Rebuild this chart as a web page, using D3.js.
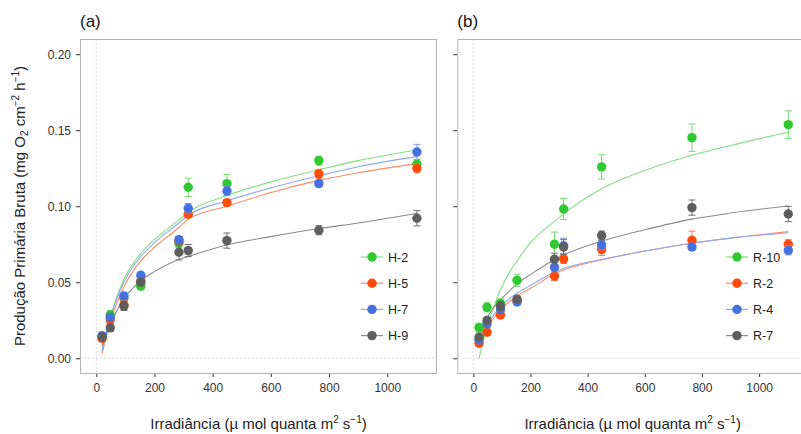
<!DOCTYPE html>
<html>
<head>
<meta charset="utf-8">
<script src="https://cdn.jsdelivr.net/npm/d3@7"></script>
<style>
  body { margin: 0; background: #fff; }
  svg { font-family: "Liberation Sans", Arial, sans-serif; }
</style>
</head>
<body>
<div id="chart"></div>
<script>
// Irradiance levels of the measurements
const irradiance = [20, 48, 95, 153, 284, 316, 449, 765, 1102];

// Panel (a)
const namesA = ['H-2', 'H-5', 'H-7', 'H-9'];
const valuesA = [
    [0.0136, 0.0285, 0.0395, 0.0474, 0.0757, 0.1125, 0.1149, 0.1300, 0.1278],
    [0.0130, 0.0252, 0.0350, 0.0509, 0.0770, 0.0947, 0.1024, 0.1213, 0.1250],
    [0.0149, 0.0270, 0.0410, 0.0546, 0.0780, 0.0987, 0.1100, 0.1149, 0.1357],
    [0.0140, 0.0200, 0.0344, 0.0500, 0.0697, 0.0708, 0.0774, 0.0842, 0.0921]
];
const errorsA = [
    [0.002, 0.003, 0.002, 0.002, 0.003, 0.006, 0.006, 0.003, 0.003],
    [0.002, 0.002, 0.003, 0.002, 0.002, 0.002, 0.002, 0.003, 0.003],
    [0.002, 0.002, 0.002, 0.002, 0.002, 0.003, 0.003, 0.002, 0.005],
    [0.002, 0.002, 0.003, 0.002, 0.005, 0.004, 0.005, 0.003, 0.005]
];

// Panel (b)
const namesB = ['R-10', 'R-2', 'R-4', 'R-7'];
const valuesB = [
    [0.0201, 0.0335, 0.0360, 0.0513, 0.0750, 0.0982, 0.1259, 0.1451, 0.1537],
    [0.0099, 0.0171, 0.0285, 0.0380, 0.0541, 0.0653, 0.0715, 0.0776, 0.0750],
    [0.0120, 0.0226, 0.0320, 0.0370, 0.0599, 0.0740, 0.0745, 0.0732, 0.0710],
    [0.0138, 0.0248, 0.0344, 0.0388, 0.0651, 0.0732, 0.0807, 0.0991, 0.0949]
];
const errorsB = [
    [0.003, 0.003, 0.003, 0.004, 0.008, 0.007, 0.008, 0.009, 0.009],
    [0.002, 0.002, 0.002, 0.002, 0.003, 0.003, 0.004, 0.006, 0.003],
    [0.002, 0.002, 0.002, 0.002, 0.003, 0.005, 0.003, 0.002, 0.003],
    [0.002, 0.002, 0.003, 0.002, 0.004, 0.005, 0.003, 0.005, 0.005]
];

// Fitted curves at these irradiances
const curveX = [20, 30, 48, 70, 95, 125, 153, 200, 284, 316, 449, 600, 765, 900, 1102];
const curvesA = [
    [0.005, 0.014, 0.027, 0.040, 0.052, 0.062, 0.069, 0.078, 0.091, 0.096, 0.107, 0.116, 0.124, 0.130, 0.137],
    [0.003, 0.011, 0.024, 0.036, 0.047, 0.057, 0.064, 0.073, 0.086, 0.0915, 0.100, 0.109, 0.117, 0.122, 0.128],
    [0.005, 0.013, 0.026, 0.039, 0.050, 0.060, 0.067, 0.076, 0.089, 0.094, 0.1035, 0.112, 0.120, 0.126, 0.1326],
    [0.008, 0.014, 0.022, 0.031, 0.039, 0.046, 0.051, 0.057, 0.065, 0.067, 0.0745, 0.080, 0.0853, 0.089, 0.0954]
];
const curvesB = [
    [0.000, 0.008, 0.020, 0.033, 0.045, 0.056, 0.064, 0.076, 0.090, 0.095, 0.1115, 0.1235, 0.1335, 0.140, 0.1487],
    [0.008, 0.012, 0.020, 0.026, 0.032, 0.037, 0.041, 0.046, 0.0555, 0.058, 0.0647, 0.0705, 0.0757, 0.079, 0.0833],
    [0.010, 0.014, 0.022, 0.028, 0.034, 0.039, 0.0428, 0.048, 0.0565, 0.059, 0.0650, 0.0705, 0.0757, 0.079, 0.0826],
    [0.012, 0.017, 0.0263, 0.033, 0.0384, 0.044, 0.049, 0.055, 0.065, 0.068, 0.077, 0.0845, 0.0915, 0.0955, 0.1002]
];

const colors = ['#2fc82f', '#ff4a0a', '#4470e0', '#5e5e5e'];
const lineColors = ['#7fe07f', '#ff8a66', '#8ea8f0', '#8a8a8a'];
const barColors = ['#70dc70', '#ff7a50', '#7f9cf0', '#6e6e6e'];
const xTicks = [0, 200, 400, 600, 800, 1000];
const yTicks = [0, 0.05, 0.10, 0.15, 0.20];

let width = 801;
let height = 434;

let svg = d3.select('#chart')
    .append('svg')
    .attr('width', width)
    .attr('height', height);

let y = d3.scaleLinear()
    .domain([-0.0097, 0.21])
    .range([373, 39]);

function drawPanel(left, right, title, names, values, errors, curves, showLabels, legendX) {
    let x = d3.scaleLinear()
        .domain([-56, 1171])
        .range([left, right]);

    let g = svg.append('g');

    // reference lines at zero
    g.append('line')
        .attr('x1', x(0)).attr('x2', x(0))
        .attr('y1', 39).attr('y2', 373)
        .attr('stroke', '#d9d9d9')
        .attr('stroke-dasharray', '2,2');
    g.append('line')
        .attr('x1', left).attr('x2', right)
        .attr('y1', y(0)).attr('y2', y(0))
        .attr('stroke', '#d9d9d9')
        .attr('stroke-dasharray', '2,2');

    // axes
    let yAxis = d3.axisLeft(y)
        .tickValues(yTicks)
        .tickSize(4)
        .tickPadding(5)
        .tickFormat(showLabels ? d3.format('.2f') : '');
    let gy = g.append('g')
        .attr('transform', 'translate(' + left + ',0)')
        .call(yAxis);

    let xAxis = d3.axisBottom(x)
        .tickValues(xTicks)
        .tickSize(4)
        .tickPadding(6)
        .tickFormat(d3.format('d'));
    let gx = g.append('g')
        .attr('transform', 'translate(0,373)')
        .call(xAxis);

    [gx, gy].forEach(function(a) {
        a.select('.domain').remove();
        a.selectAll('line').attr('stroke', '#333');
        a.selectAll('text')
            .attr('fill', '#333')
            .style('font-size', '12px');
    });

    // panel border
    g.append('rect')
        .attr('x', left + 0.5)
        .attr('y', 39.5)
        .attr('width', right - left - 1)
        .attr('height', 334)
        .attr('fill', 'none')
        .attr('stroke', '#b3b3b3');

    // fitted curves
    let line = d3.line()
        .x(function(d) { return x(d[0]); })
        .y(function(d) { return y(d[1]); })
        .curve(d3.curveMonotoneX);

    curves.forEach(function(c, i) {
        g.append('path')
            .datum(curveX.map(function(v, j) { return [v, c[j]]; }))
            .attr('d', line)
            .attr('fill', 'none')
            .attr('stroke', lineColors[i])
            .attr('stroke-width', 1.1);
    });

    // error bars and points
    values.forEach(function(vals, i) {
        let pts = irradiance.map(function(v, j) {
            return { x: v, y: vals[j], e: errors[i][j] };
        });
        let bars = g.append('g')
            .attr('stroke', barColors[i])
            .attr('stroke-width', 1);
        bars.selectAll('.stem')
            .data(pts).enter()
            .append('line')
            .attr('x1', function(d) { return x(d.x); })
            .attr('x2', function(d) { return x(d.x); })
            .attr('y1', function(d) { return y(d.y - d.e); })
            .attr('y2', function(d) { return y(d.y + d.e); });
        [-1, 1].forEach(function(s) {
            bars.selectAll('.cap' + s)
                .data(pts).enter()
                .append('line')
                .attr('x1', function(d) { return x(d.x) - 3.5; })
                .attr('x2', function(d) { return x(d.x) + 3.5; })
                .attr('y1', function(d) { return y(d.y + s * d.e); })
                .attr('y2', function(d) { return y(d.y + s * d.e); });
        });
        g.append('g')
            .selectAll('circle')
            .data(pts).enter()
            .append('circle')
            .attr('cx', function(d) { return x(d.x); })
            .attr('cy', function(d) { return y(d.y); })
            .attr('r', 4.7)
            .attr('fill', colors[i]);
    });

    // legend
    names.forEach(function(n, i) {
        let ly = 257 + i * 26.2;
        g.append('line')
            .attr('x1', legendX - 11).attr('x2', legendX + 11)
            .attr('y1', ly).attr('y2', ly)
            .attr('stroke', lineColors[i])
            .attr('stroke-width', 1.2);
        g.append('circle')
            .attr('cx', legendX).attr('cy', ly)
            .attr('r', 4.7)
            .attr('fill', colors[i]);
        g.append('text')
            .attr('x', legendX + 16)
            .attr('y', ly + 4.5)
            .attr('fill', '#222')
            .style('font-size', '12.5px')
            .text(n);
    });

    // panel title
    svg.append('text')
        .attr('x', left)
        .attr('y', 27)
        .attr('fill', '#111')
        .style('font-size', '17px')
        .text(title);

    // x axis label
    let xl = svg.append('text')
        .attr('x', (left + right) / 2)
        .attr('y', 429)
        .attr('text-anchor', 'middle')
        .attr('fill', '#222')
        .style('font-size', '15px');
    xl.append('tspan').text('Irradiância (µ mol quanta m');
    xl.append('tspan').attr('dy', -6).style('font-size', '10px').text('2');
    xl.append('tspan').attr('dy', 6).text(' s');
    xl.append('tspan').attr('dy', -6).style('font-size', '10px').text('−1');
    xl.append('tspan').attr('dy', 6).text(')');
}

drawPanel(80, 437, '(a)', namesA, valuesA, errorsA, curvesA, true, 372);
drawPanel(457.3, 808, '(b)', namesB, valuesB, errorsB, curvesB, false, 737);

// y axis label
let yl = svg.append('text')
    .attr('transform', 'translate(24.5,206) rotate(-90)')
    .attr('text-anchor', 'middle')
    .attr('fill', '#222')
    .style('font-size', '15px');
yl.append('tspan').text('Produção Primária Bruta (mg O');
yl.append('tspan').attr('dy', 3).style('font-size', '10px').text('2');
yl.append('tspan').attr('dy', -3).text(' cm');
yl.append('tspan').attr('dy', -6).style('font-size', '10px').text('−2');
yl.append('tspan').attr('dy', 6).text(' h');
yl.append('tspan').attr('dy', -6).style('font-size', '10px').text('−1');
yl.append('tspan').attr('dy', 6).text(')');
</script>
</body>
</html>
